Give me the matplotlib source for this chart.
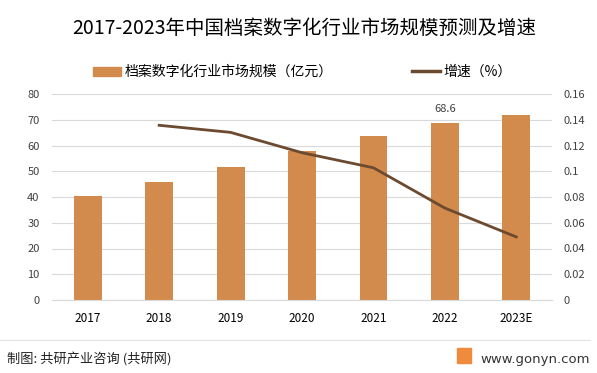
import matplotlib.pyplot as plt
from matplotlib.lines import Line2D
from matplotlib.patches import Patch, Rectangle

plt.rcParams['font.family'] = ['Noto Sans CJK SC', 'DejaVu Sans']

# data
years = ['2017', '2018', '2019', '2020', '2021', '2022', '2023E']
market_size = [40.4, 45.9, 51.7, 58.0, 63.7, 68.6, 71.9]
growth_years = ['2018', '2019', '2020', '2021', '2022', '2023E']
growth_rate = [0.1357, 0.1302, 0.1144, 0.1027, 0.0714, 0.0490]
left_ticks = [0, 10, 20, 30, 40, 50, 60, 70, 80]
right_ticks = [0, 0.02, 0.04, 0.06, 0.08, 0.1, 0.12, 0.14, 0.16]
right_labels = ['0', '0.02', '0.04', '0.06', '0.08', '0.1', '0.12', '0.14', '0.16']

bar_color = '#D38B4D'
line_color = '#6B4A2F'
grid_color = '#D9D9D9'
text_color = '#404040'

W, H = 597, 373
fig = plt.figure(figsize=(W / 100, H / 100), dpi=100)
ax = fig.add_axes([52 / W, 1 - 300 / H, 500 / W, 206 / H])
ax2 = ax.twinx()

x = list(range(len(years)))
ax.bar(x, market_size, width=0.39, color=bar_color, zorder=2)
ax.set_xlim(-0.5, len(years) - 0.5)
ax.set_ylim(0, 80)
ax.set_yticks(left_ticks)
ax.set_xticks(x)
ax.set_xticklabels(years, fontsize=8.5, color='black')
ax.tick_params(axis='y', labelsize=8, colors=text_color, length=0, pad=9)
ax.tick_params(axis='x', length=0, pad=9)
ax.grid(axis='y', color=grid_color, linewidth=0.8, zorder=0)
ax.set_axisbelow(True)
for s in ax.spines.values():
    s.set_visible(False)
ax.spines['bottom'].set_visible(True)
ax.spines['bottom'].set_color(grid_color)

# only 2022 has a value label
i22 = years.index('2022')
ax.text(i22, market_size[i22] + 3.5, f'{market_size[i22]}', ha='center', va='bottom',
        fontsize=8, color=text_color)

gx = [years.index(y) for y in growth_years]
ax2.plot(gx, growth_rate, color=line_color, linewidth=2, zorder=3)
ax2.set_ylim(0, 0.16)
ax2.set_yticks(right_ticks)
ax2.set_yticklabels(right_labels)
ax2.tick_params(axis='y', labelsize=8, colors=text_color, length=0, pad=8)
for s in ax2.spines.values():
    s.set_visible(False)

fig.text(304.5 / W, 1 - 28 / H, '2017-2023年中国档案数字化行业市场规模预测及增速', ha='center',
         va='center', fontsize=14, color='black')

# two legend entries placed where they sit in the original
leg_kw = dict(loc='center left', frameon=False, fontsize=10, borderpad=0,
              borderaxespad=0, handlelength=2.0, handleheight=0.6, handletextpad=0.25)
fig.legend([Patch(color=bar_color)], ['档案数字化行业市场规模（亿元）'],
           bbox_to_anchor=(93 / W, 1 - 72 / H), **leg_kw)
fig.legend([Line2D([0], [0], color=line_color, linewidth=2.5)], ['增速（%）'],
           bbox_to_anchor=(412 / W, 1 - 72 / H), **leg_kw)

# footer
fig.add_artist(Line2D([0, 590 / W], [1 - 340 / H] * 2, color='#E3E3E3', linewidth=0.8))
fig.text(7 / W, 1 - 360 / H, '制图: 共研产业咨询 (共研网)', ha='left', va='center',
         fontsize=9.5, color='#222222')
fig.add_artist(Rectangle((457 / W, 1 - 363 / H), 14 / W, 15 / H,
                         color='#F08A3C', transform=fig.transFigure))
fig.text(590 / W, 1 - 360 / H, 'www.gonyn.com', ha='right', va='center',
         fontsize=9.5, color='#333333', family='DejaVu Sans')

fig.savefig('out.png', dpi=100)
